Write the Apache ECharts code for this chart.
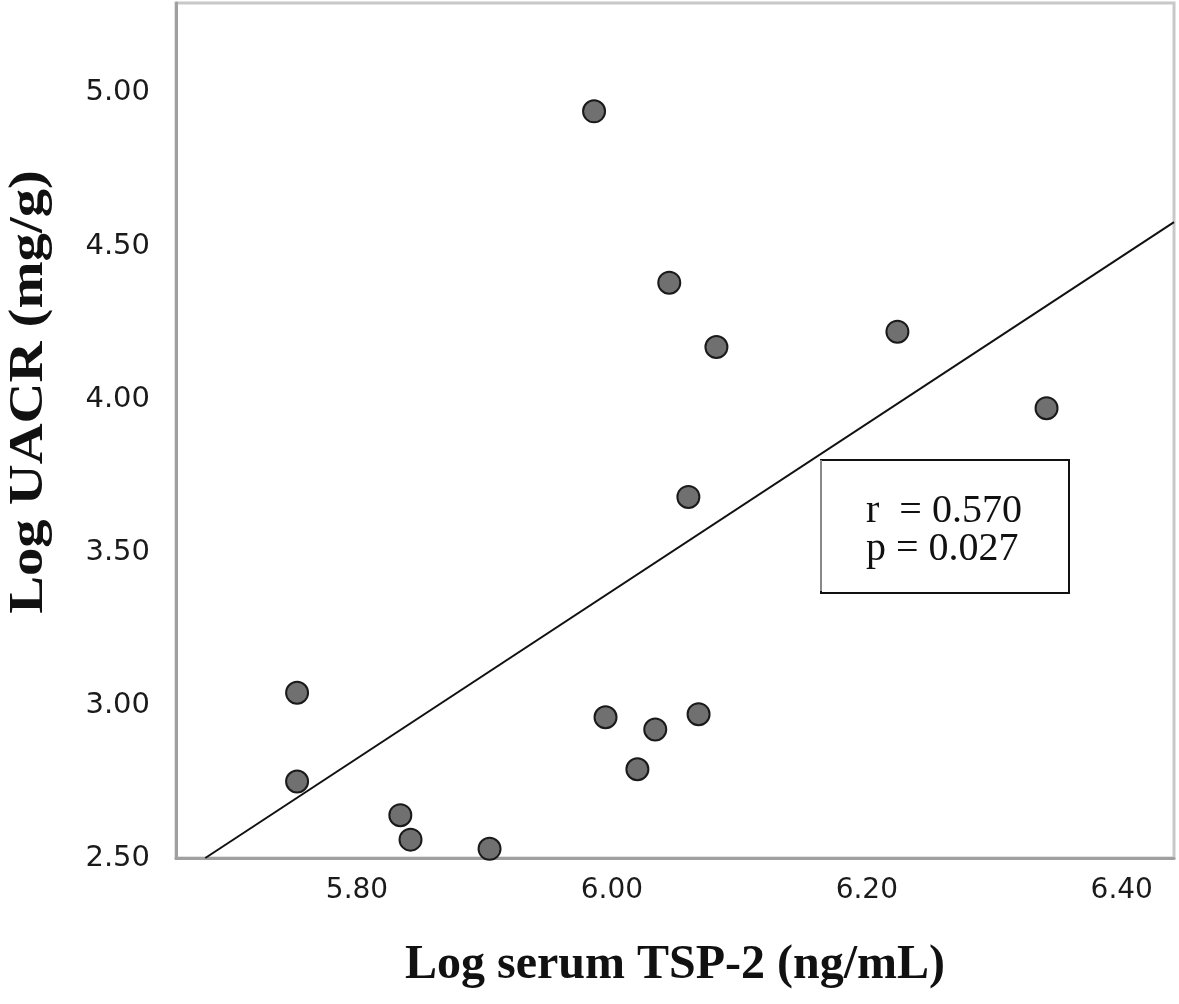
<!DOCTYPE html>
<html>
<head>
<meta charset="utf-8">
<script src="https://cdn.jsdelivr.net/npm/echarts@6/dist/echarts.min.js"></script>
<style>
html,body{margin:0;padding:0;background:#fff;}
#chart{width:1179px;height:1004px;}
</style>
</head>
<body>
<div id="chart"></div>
<script>
// Data
var tspX = [5.753, 5.753, 5.834, 5.842, 5.904, 5.986, 5.995, 6.020, 6.034, 6.045, 6.060, 6.068, 6.082, 6.224, 6.341];
var uacrY = [3.04, 2.75, 2.64, 2.56, 2.53, 4.94, 2.96, 2.79, 2.92, 4.38, 3.68, 2.97, 4.17, 4.22, 3.97];
var fitX = [5.681, 6.441];
var fitY = [2.50, 4.578];
var xTicks = [5.8, 6.0, 6.2, 6.4];
var yTicks = [2.5, 3.0, 3.5, 4.0, 4.5, 5.0];
var statText = ['r  = 0.570', 'p = 0.027'];
var xTitle = 'Log serum TSP-2 (ng/mL)';
var yTitle = 'Log UACR (mg/g)';

var points = tspX.map(function (x, i) { return [x, uacrY[i]]; });
var fitLine = fitX.map(function (x, i) { return [x, fitY[i]]; });

var chart = echarts.init(document.getElementById('chart'), null, {renderer: 'canvas'});
chart.setOption({
  animation: false,
  backgroundColor: '#ffffff',
  grid: {
    left: 176, right: 5, top: 3, bottom: 146,
    outerBoundsMode: 'none', containLabel: false,
    show: true, borderColor: '#c8c8c8', borderWidth: 3, backgroundColor: '#ffffff'
  },
  xAxis: {
    type: 'value', min: 5.658, max: 6.441,
    splitLine: {show: false},
    axisTick: {show: false},
    axisLine: {show: true, onZero: false, lineStyle: {color: '#a0a0a0', width: 3}},
    axisLabel: {
      customValues: xTicks, margin: 19,
      fontFamily: 'DejaVu Sans', fontSize: 28, color: '#1a1a1a',
      formatter: function (v) { return v.toFixed(2); }
    },
    name: xTitle, nameLocation: 'middle', nameGap: 84,
    nameTextStyle: {fontFamily: 'Liberation Serif', fontWeight: 'bold', fontSize: 48, color: '#111'}
  },
  yAxis: {
    type: 'value', min: 2.5, max: 5.294,
    splitLine: {show: false},
    axisTick: {show: false},
    axisLine: {show: true, onZero: false, lineStyle: {color: '#a0a0a0', width: 3}},
    axisLabel: {
      customValues: yTicks, margin: 26,
      fontFamily: 'DejaVu Sans', fontSize: 29, color: '#1a1a1a',
      formatter: function (v) { return v.toFixed(2); }
    }
  },
  series: [
    {
      type: 'line', data: fitLine, symbol: 'none', clip: true, silent: true,
      lineStyle: {color: '#111', width: 2}, z: 2
    },
    {
      type: 'scatter', data: points, symbol: 'circle', symbolSize: 22,
      itemStyle: {color: '#707070', borderColor: '#1a1a1a', borderWidth: 2, opacity: 1}, z: 3
    }
  ],
  graphic: [
    {
      type: 'text', x: 30, y: 392, rotation: Math.PI / 2, scaleX: 1.18, z: 12,
      style: {text: yTitle, fontFamily: 'Liberation Serif', fontWeight: 'bold', fontSize: 48,
              fill: '#111', align: 'center', verticalAlign: 'middle'}
    },
    {
      type: 'rect', left: 820, top: 459, z: 10,
      shape: {width: 248, height: 133},
      style: {fill: '#ffffff', stroke: '#111', lineWidth: 2}
    },
    {
      type: 'rect', left: 820, top: 460, z: 11,
      shape: {width: 2, height: 131},
      style: {fill: '#888'}
    },
    {
      type: 'text', left: 866, top: 491, z: 12,
      style: {text: statText.join('\n'), fontFamily: 'Liberation Serif', fontSize: 40, lineHeight: 38, fill: '#111'}
    }
  ]
});
</script>
</body>
</html>
